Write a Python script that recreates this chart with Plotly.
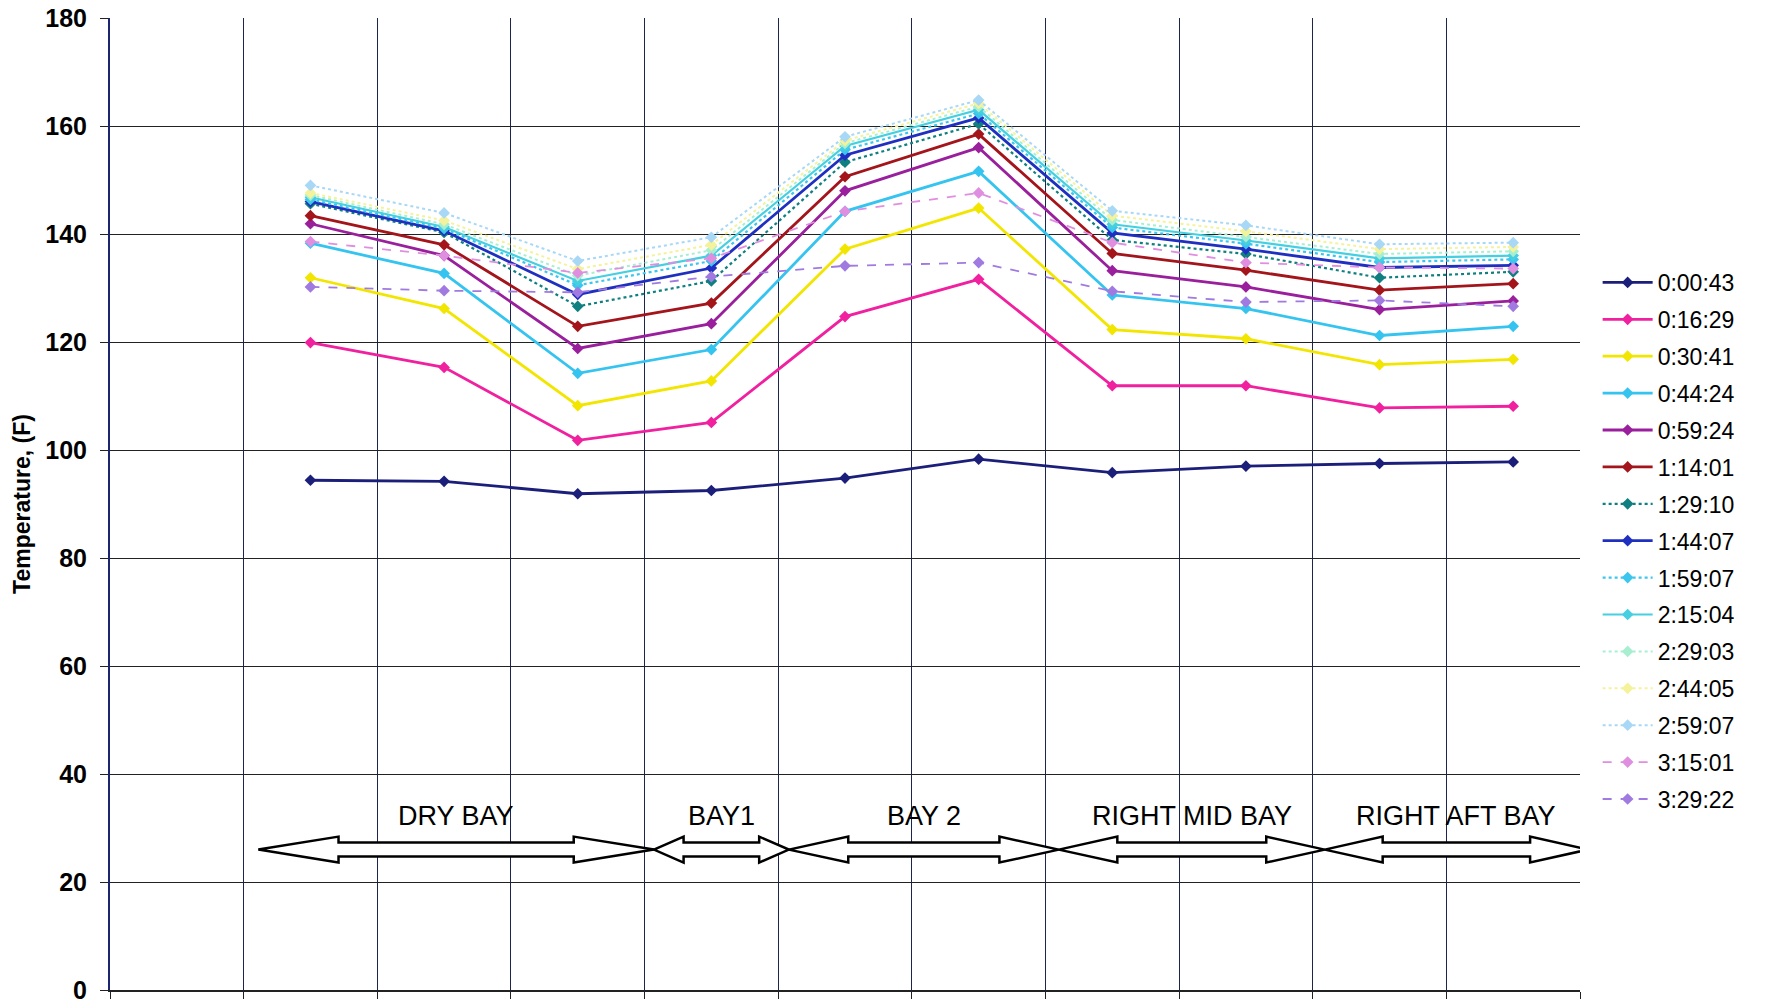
import plotly.graph_objects as go

# Measurement locations sit midway between the vertical gridlines
positions = [1.5, 2.5, 3.5, 4.5, 5.5, 6.5, 7.5, 8.5, 9.5, 10.5]

times = [
    "0:00:43", "0:16:29", "0:30:41", "0:44:24", "0:59:24",
    "1:14:01", "1:29:10", "1:44:07", "1:59:07", "2:15:04",
    "2:29:03", "2:44:05", "2:59:07", "3:15:01", "3:29:22",
]

t_0_00_43 = [94.4, 94.2, 91.9, 92.5, 94.8, 98.3, 95.8, 97.0, 97.5, 97.8]
t_0_16_29 = [119.9, 115.3, 101.8, 105.1, 124.7, 131.6, 111.9, 111.9, 107.8, 108.1]
t_0_30_41 = [131.9, 126.2, 108.2, 112.8, 137.2, 144.8, 122.3, 120.6, 115.8, 116.8]
t_0_44_24 = [138.3, 132.7, 114.2, 118.6, 144.2, 151.6, 128.7, 126.2, 121.2, 122.9]
t_0_59_24 = [141.9, 136.0, 118.8, 123.4, 148.0, 156.0, 133.2, 130.2, 126.0, 127.6]
t_1_14_01 = [143.4, 138.0, 122.9, 127.2, 150.6, 158.5, 136.4, 133.3, 129.6, 130.8]
t_1_29_10 = [145.6, 140.3, 126.6, 131.3, 153.3, 160.4, 138.9, 136.3, 131.9, 133.0]
t_1_44_07 = [146.0, 140.6, 128.8, 133.7, 154.6, 161.5, 140.2, 137.2, 133.8, 134.2]
t_1_59_07 = [146.4, 141.0, 130.5, 135.0, 155.6, 162.3, 141.2, 138.2, 134.8, 135.3]
t_2_15_04 = [146.8, 141.3, 131.3, 136.0, 156.3, 163.0, 141.8, 138.8, 135.5, 136.0]
t_2_29_03 = [147.2, 141.8, 132.3, 137.0, 156.8, 163.6, 142.6, 139.5, 136.3, 136.8]
t_2_44_05 = [147.6, 142.5, 133.5, 138.0, 157.3, 164.2, 143.4, 140.5, 137.2, 137.6]
t_2_59_07 = [149.0, 143.9, 135.0, 139.4, 158.0, 164.8, 144.3, 141.6, 138.1, 138.4]
t_3_15_01 = [138.6, 136.0, 132.8, 135.5, 144.2, 147.6, 138.4, 134.7, 133.8, 133.6]
t_3_29_22 = [130.2, 129.5, 129.2, 132.1, 134.1, 134.7, 129.4, 127.4, 127.7, 126.6]

series = [
    t_0_00_43, t_0_16_29, t_0_30_41, t_0_44_24, t_0_59_24,
    t_1_14_01, t_1_29_10, t_1_44_07, t_1_59_07, t_2_15_04,
    t_2_29_03, t_2_44_05, t_2_59_07, t_3_15_01, t_3_29_22,
]

# Bay names and their extents along the x axis (gridline units)
bay_names = ["DRY BAY", "BAY1", "BAY 2", "RIGHT MID BAY", "RIGHT AFT BAY"]
bay_edges = [1.11, 4.07, 5.08, 7.10, 9.09, 11.06]
bay_level = 26

colors = [
    "#1b1f7a", "#f0209f", "#f2e600", "#35c4ef", "#9a1f9c",
    "#a3141b", "#0f7f7f", "#1f2fc0", "#3cc6ee", "#45cfe0",
    "#a8efd2", "#f4f29a", "#a8d8f6", "#e08ee0", "#a07ae0",
]
dashes = [
    "solid", "solid", "solid", "solid", "solid",
    "solid", "dot", "solid", "dot", "solid",
    "dot", "dot", "dot", "dash", "dash",
]
widths = [2.8, 2.8, 2.8, 2.8, 2.8, 2.8, 2.2, 2.8, 2.2, 2.2, 2, 2, 2, 1.8, 1.8]

fig = go.Figure()

for name, vals, col, dash, w in zip(times, series, colors, dashes, widths):
    fig.add_trace(
        go.Scatter(
            x=positions,
            y=vals,
            mode="lines+markers",
            name=name,
            legendgroup=name,
            line={"color": col, "dash": dash, "width": w},
            marker={"symbol": "diamond", "size": 9, "color": col},
        )
    )

# Double-headed block arrows marking each bay
shapes = []
annotations = []
shaft = 1.3
head = 2.4
for name, x0, x1 in zip(bay_names, bay_edges[:-1], bay_edges[1:]):
    hl = min(0.6, 0.22 * (x1 - x0))
    y = bay_level
    path = (
        f"M {x0},{y} L {x0 + hl},{y + head} L {x0 + hl},{y + shaft} "
        f"L {x1 - hl},{y + shaft} L {x1 - hl},{y + head} L {x1},{y} "
        f"L {x1 - hl},{y - head} L {x1 - hl},{y - shaft} "
        f"L {x0 + hl},{y - shaft} L {x0 + hl},{y - head} Z"
    )
    shapes.append(
        dict(
            type="path",
            xref="x",
            yref="y",
            path=path,
            fillcolor="white",
            line={"color": "black", "width": 2.5},
            layer="above",
        )
    )
    annotations.append(
        dict(
            x=(x0 + x1) / 2,
            y=32.2,
            xref="x",
            yref="y",
            text=name,
            showarrow=False,
            font={"family": "Liberation Sans Narrow, Arial Narrow, sans-serif",
                  "size": 27, "color": "black"},
        )
    )

fig.update_layout(
    width=1767,
    height=1003,
    margin={"l": 110, "r": 187, "t": 18, "b": 13},
    paper_bgcolor="white",
    plot_bgcolor="white",
    shapes=shapes,
    annotations=annotations,
    showlegend=True,
    legend={
        "x": 1.012,
        "xanchor": "left",
        "y": 0.462,
        "yanchor": "middle",
        "font": {"family": "Liberation Sans, Arial, sans-serif", "size": 23,
                 "color": "black"},
        "tracegroupgap": 4,
        "itemwidth": 50,
        "bgcolor": "rgba(0,0,0,0)",
    },
    xaxis={
        "range": [0, 11],
        "tickvals": list(range(12)),
        "showticklabels": False,
        "ticks": "outside",
        "ticklen": 7,
        "tickcolor": "#222",
        "showgrid": True,
        "gridcolor": "#1c2550",
        "gridwidth": 1,
        "showline": True,
        "linecolor": "#222",
        "linewidth": 1.5,
        "mirror": False,
        "zeroline": False,
        "automargin": False,
    },
    yaxis={
        "range": [0, 180],
        "tickvals": list(range(0, 181, 20)),
        "ticks": "outside",
        "ticklen": 8,
        "tickcolor": "#222",
        "showgrid": True,
        "gridcolor": "#222",
        "gridwidth": 1.2,
        "showline": True,
        "linecolor": "#1c2570",
        "linewidth": 2,
        "zeroline": False,
        "automargin": False,
        "ticklabeloverflow": "allow",
        "ticklabelstandoff": 8,
        "tickfont": {"family": "Liberation Sans, Arial, sans-serif", "size": 25,
                     "color": "black", "weight": "bold"},
        "title": {
            "text": "<b>Temperature, (F)</b>",
            "font": {"family": "Liberation Sans Narrow, Arial Narrow, sans-serif",
                     "size": 23, "color": "black"},
            "standoff": 8,
        },
    },
)

# Drop the default page margin so the figure fills the window exactly
fig.write_html(
    "out.html",
    config={"displayModeBar": False},
    post_script="document.body.style.margin = '0';",
)
